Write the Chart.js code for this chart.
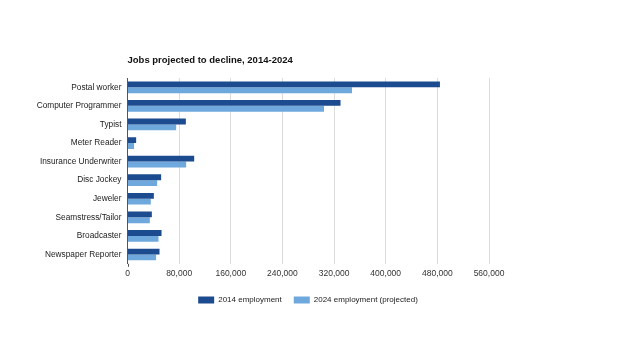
<!DOCTYPE html>
<html>
<head>
<meta charset="utf-8">
<script src="https://cdn.jsdelivr.net/npm/chart.js@4.4.1/dist/chart.umd.min.js"></script>
<style>
  html, body { margin: 0; padding: 0; background: #fff; }
  #wrap { position: relative; width: 620px; height: 349px; }
  canvas { display: block; }
</style>
</head>
<body>
<div id="wrap"><canvas id="c" width="620" height="349"></canvas></div>
<script>
const chartTitle = "Jobs projected to decline, 2014-2024";
const categories = ["Postal worker", "Computer Programmer", "Typist", "Meter Reader", "Insurance Underwriter", "Disc Jockey", "Jeweler", "Seamstress/Tailor", "Broadcaster", "Newspaper Reporter"];
const seriesNames = ["2014 employment", "2024 employment (projected)"];
const employment2014 = [484000, 330000, 90400, 13400, 103300, 52100, 40800, 37700, 52700, 49600];
const employment2024 = [347800, 304400, 75400, 10200, 90900, 45900, 36100, 34600, 48000, 44300];
const xTicks = [0, 80000, 160000, 240000, 320000, 400000, 480000, 560000];

const FONT = "'Liberation Sans', Arial, Helvetica, sans-serif";

const titlePlugin = {
  id: 'leftTitle',
  afterLayout(chart) {
    // centre the legend on the page width rather than the padded box
    if (chart.legend) {
      chart.legend.left = 0;
      chart.legend.right = 616;
      chart.legend.width = 616;
    }
  },
  afterDraw(chart) {
    const ctx = chart.ctx;
    ctx.save();
    ctx.font = "bold 9.5px " + FONT;
    ctx.fillStyle = "#111";
    ctx.textBaseline = "middle";
    ctx.textAlign = "left";
    ctx.fillText(chartTitle, chart.chartArea.left, 60);
    ctx.strokeStyle = '#555';
    ctx.lineWidth = 1;
    const x0 = Math.round(chart.chartArea.left) + 0.5;
    ctx.beginPath();
    ctx.moveTo(x0, chart.chartArea.bottom);
    ctx.lineTo(x0, chart.chartArea.bottom + 3);
    ctx.stroke();
    ctx.restore();
  }
};

new Chart(document.getElementById('c'), {
  type: 'bar',
  data: {
    labels: categories,
    datasets: [
      { label: seriesNames[0], data: employment2014, backgroundColor: '#1d4b8f', borderWidth: 0 },
      { label: seriesNames[1], data: employment2024, backgroundColor: '#6fa8dc', borderWidth: 0 }
    ]
  },
  options: {
    indexAxis: 'y',
    responsive: false,
    animation: false,
    devicePixelRatio: 1,
    layout: { padding: { top: 78, right: 131, left: 0, bottom: 35 } },
    datasets: { bar: { categoryPercentage: 0.63, barPercentage: 1.0 } },
    scales: {
      x: {
        min: 0, max: 560000,
        afterBuildTicks(scale) { scale.ticks = xTicks.map(v => ({ value: v })); },
        ticks: {
          font: { family: FONT, size: 8.5 },
          color: '#333',
          padding: 5,
          callback: v => Number(v).toLocaleString('en-US')
        },
        grid: { color: '#dcdcdc', drawTicks: false, lineWidth: 1 },
        border: { display: false }
      },
      y: {
        afterFit(scale) { scale.width = 127.5; },
        ticks: { font: { family: FONT, size: 8.3 }, color: '#222', padding: 6 },
        grid: { display: false, drawTicks: false },
        border: { display: true, color: '#555', width: 1 }
      }
    },
    plugins: {
      title: { display: false },
      tooltip: { enabled: false },
      legend: {
        position: 'bottom',
        labels: {
          boxWidth: 16, boxHeight: 7,
          font: { family: FONT, size: 8 },
          color: '#222',
          padding: 12
        }
      }
    }
  },
  plugins: [titlePlugin]
});
</script>
</body>
</html>
